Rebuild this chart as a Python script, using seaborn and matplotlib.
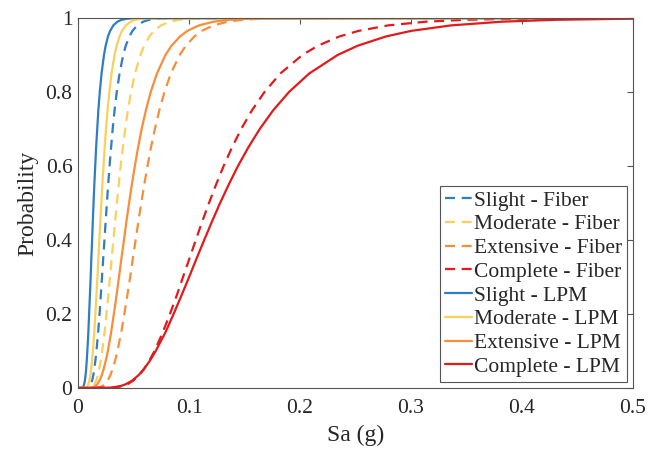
import matplotlib
matplotlib.use("Agg")
import matplotlib.pyplot as plt
import seaborn as sns

# ---------------- data (Sa in g at each probability level) ----------------
prob = [0, 0.001, 0.005, 0.01, 0.02, 0.035, 0.05, 0.075, 0.1, 0.15, 0.2, 0.25, 0.3, 0.35,
        0.4, 0.45, 0.5, 0.55, 0.6, 0.65, 0.7, 0.75, 0.8, 0.85, 0.9, 0.925, 0.95, 0.965,
        0.98, 0.99, 0.995, 0.998, 0.999, 1]

sa_slight_fiber = [0, 0.0088, 0.0106, 0.0115, 0.0127, 0.0138, 0.0146, 0.0157, 0.0166, 0.0181,
                   0.0194, 0.0205, 0.0216, 0.0227, 0.0238, 0.0249, 0.0260, 0.0272, 0.0284,
                   0.0298, 0.0312, 0.0329, 0.0349, 0.0374, 0.0407, 0.0430, 0.0463, 0.0490,
                   0.0534, 0.0587, 0.0641, 0.0712, 0.0767, 0.5]
sa_moderate_fiber = [0, 0.0112, 0.0135, 0.0148, 0.0164, 0.0179, 0.0190, 0.0205, 0.0218, 0.0239,
                     0.0256, 0.0273, 0.0288, 0.0303, 0.0319, 0.0334, 0.0350, 0.0367, 0.0384,
                     0.0404, 0.0425, 0.0449, 0.0478, 0.0513, 0.0562, 0.0596, 0.0643, 0.0684,
                     0.0748, 0.0828, 0.0908, 0.1015, 0.1098, 0.5]
sa_extensive_fiber = [0, 0.0182, 0.0220, 0.0241, 0.0267, 0.0292, 0.0310, 0.0335, 0.0355, 0.0389,
                      0.0417, 0.0444, 0.0470, 0.0494, 0.0519, 0.0544, 0.0570, 0.0597, 0.0626,
                      0.0657, 0.0692, 0.0732, 0.0779, 0.0836, 0.0916, 0.0971, 0.1048, 0.1114,
                      0.1219, 0.1348, 0.1479, 0.1654, 0.1788, 0.5]
sa_complete_fiber = [0, 0.0322, 0.0400, 0.0445, 0.0498, 0.0551, 0.0591, 0.0644, 0.0689, 0.0763,
                     0.0828, 0.0889, 0.0946, 0.1004, 0.1061, 0.1119, 0.1180, 0.1244, 0.1312,
                     0.1387, 0.1470, 0.1566, 0.1680, 0.1823, 0.2021, 0.2161, 0.2354, 0.2525,
                     0.2795, 0.3134, 0.3481, 0.3952, 0.4320, 0.5]

sa_slight_lpm = [0, 0.0041, 0.0050, 0.0055, 0.0062, 0.0068, 0.0073, 0.0079, 0.0084, 0.0093,
                 0.0100, 0.0107, 0.0114, 0.0120, 0.0127, 0.0133, 0.0140, 0.0147, 0.0155,
                 0.0163, 0.0173, 0.0183, 0.0196, 0.0212, 0.0234, 0.0249, 0.0270, 0.0289,
                 0.0318, 0.0355, 0.0392, 0.0443, 0.0482, 0.5]
sa_moderate_lpm = [0, 0.0071, 0.0085, 0.0093, 0.0102, 0.0112, 0.0118, 0.0127, 0.0134, 0.0146,
                   0.0156, 0.0166, 0.0175, 0.0183, 0.0192, 0.0201, 0.0210, 0.0219, 0.0230,
                   0.0240, 0.0252, 0.0266, 0.0282, 0.0302, 0.0329, 0.0348, 0.0374, 0.0396,
                   0.0431, 0.0474, 0.0517, 0.0575, 0.0619, 0.5]
sa_extensive_lpm = [0, 0.0126, 0.0156, 0.0173, 0.0194, 0.0215, 0.0230, 0.0251, 0.0269, 0.0298,
                    0.0323, 0.0347, 0.0369, 0.0391, 0.0414, 0.0436, 0.0460, 0.0485, 0.0512,
                    0.0541, 0.0573, 0.0611, 0.0655, 0.0711, 0.0788, 0.0842, 0.0918, 0.0984,
                    0.1090, 0.1222, 0.1357, 0.1541, 0.1684, 0.5]
sa_complete_lpm = [0, 0.0300, 0.0381, 0.0429, 0.0488, 0.0547, 0.0591, 0.0650, 0.0700, 0.0787,
                   0.0861, 0.0932, 0.1001, 0.1068, 0.1137, 0.1207, 0.1280, 0.1358, 0.1441,
                   0.1534, 0.1637, 0.1757, 0.1901, 0.2083, 0.2339, 0.2519, 0.2774, 0.2999,
                   0.3361, 0.3820, 0.4296, 0.4951, 0.5469, 0.6]

labels = ['Slight - Fiber', 'Moderate - Fiber', 'Extensive - Fiber', 'Complete - Fiber',
          'Slight - LPM', 'Moderate - LPM', 'Extensive - LPM', 'Complete - LPM']
curves = [sa_slight_fiber, sa_moderate_fiber, sa_extensive_fiber, sa_complete_fiber,
          sa_slight_lpm, sa_moderate_lpm, sa_extensive_lpm, sa_complete_lpm]

xticks = [0, 0.1, 0.2, 0.3, 0.4, 0.5]
xtick_labels = ['0', '0.1', '0.2', '0.3', '0.4', '0.5']
yticks = [0, 0.2, 0.4, 0.6, 0.8, 1]
ytick_labels = ['0', '0.2', '0.4', '0.6', '0.8', '1']

colors = ['#2E7EC3', '#FAD05A', '#F88E3A', '#E31A1C'] * 2
styles = [(0, (4.5, 3.0))] * 4 + ['-'] * 4

# ---------------- figure ----------------
sns.set_theme(style="white")
plt.rcParams['font.family'] = ['Liberation Serif', 'DejaVu Serif']

fig = plt.figure(figsize=(6.48, 4.54), dpi=100)
ax = fig.add_axes([0.1204, 0.1454, 0.8565, 0.8150])

for sa, lab, col, ls in zip(curves, labels, colors, styles):
    sns.lineplot(x=sa, y=prob, color=col, linestyle=ls, linewidth=1.6,
                 label=lab, errorbar=None, sort=False, ax=ax)

ax.set_xlim(0, 0.5)
ax.set_ylim(0, 1)
ax.set_xticks(xticks)
ax.set_xticklabels(xtick_labels)
ax.set_yticks(yticks)
ax.set_yticklabels(ytick_labels)
ax.set_xlabel('Sa (g)', fontsize=17, color='#262626', labelpad=5)
ax.set_ylabel('Probability', fontsize=17, color='#262626', labelpad=5)

ax.tick_params(direction='in', top=True, right=True, length=4, width=0.8,
               color='#555555', labelsize=15.5, labelcolor='#262626')
ax.tick_params(axis='x', pad=8)
ax.tick_params(axis='y', pad=4)
for sp in ax.spines.values():
    sp.set_color('#555555')
    sp.set_linewidth(0.8)
    sp.set_visible(True)

leg = ax.legend(loc='lower right', fontsize=15.5, frameon=True, fancybox=False,
                edgecolor='#555555', framealpha=1, handlelength=1.25,
                handletextpad=0.1, borderpad=0.22, labelspacing=0.17,
                borderaxespad=0.3)
leg.get_frame().set_linewidth(0.8)

fig.savefig('out.png', dpi=100)
